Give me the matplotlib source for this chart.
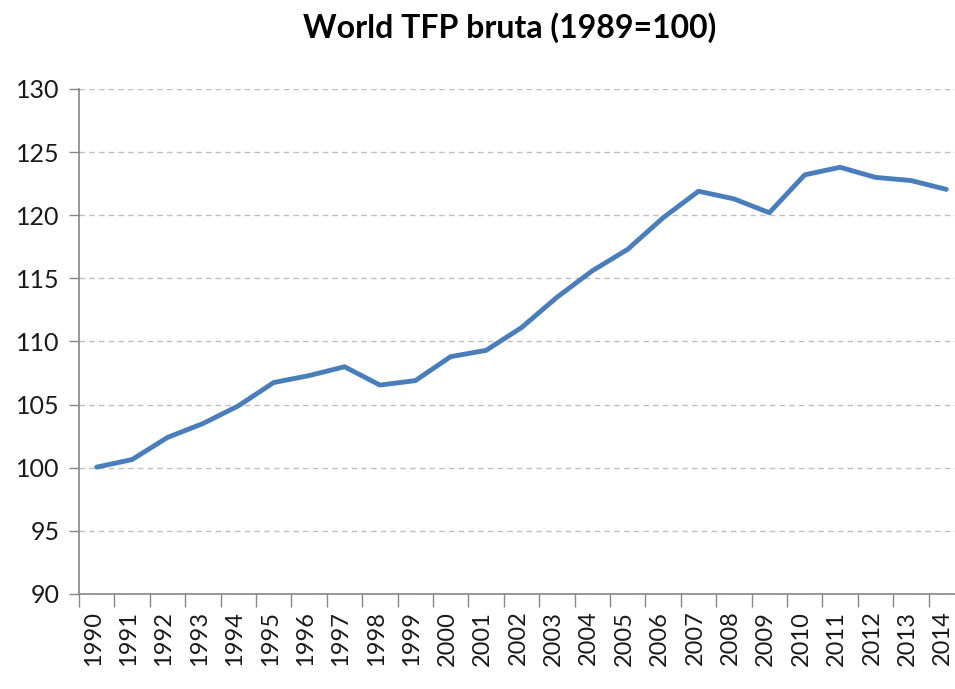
import matplotlib
matplotlib.use("Agg")
import matplotlib.pyplot as plt
import numpy as np

years = [str(y) for y in range(1990, 2015)]
tfp = [100.05, 100.65, 102.4, 103.5, 104.9, 106.75, 107.3, 108.0, 106.55, 106.9,
       108.8, 109.3, 111.1, 113.5, 115.6, 117.3, 119.8, 121.9, 121.3, 120.2,
       123.2, 123.8, 123.0, 122.75, 122.05]
y_ticks = [90, 95, 100, 105, 110, 115, 120, 125, 130]

plt.rcParams['font.family'] = ['Lato', 'DejaVu Sans']

W, H = 955, 689
fig = plt.figure(figsize=(W / 100, H / 100), dpi=100)
left, right, top, bottom = 79, 964, 89, 594
ax = fig.add_axes([left / W, 1 - bottom / H, (right - left) / W, (bottom - top) / H])

x = np.arange(len(years))
ax.plot(x, tfp, color='#4a7ebb', lw=3.5, solid_joinstyle='round', solid_capstyle='round', clip_on=False)

ax.set_ylim(90, 130)
ax.set_xlim(-0.5, len(years) - 0.5)
ax.set_yticks(y_ticks)
ax.set_yticklabels([str(v) for v in y_ticks])
ax.yaxis.grid(True, color='#bfbfbf', linestyle=(0, (4, 3)), lw=1)
ax.set_axisbelow(True)

ax.set_xticks(np.arange(-0.5, len(years), 1.0))
ax.set_xticklabels([])
ax.set_xticks(x - 0.1, minor=True)
ax.set_xticklabels(years, minor=True, rotation=90)
ax.tick_params(axis='x', which='major', length=9, color='#868686', width=1)
ax.tick_params(axis='x', which='minor', length=0, pad=12, labelsize=17, labelcolor='#1a1a1a')
ax.tick_params(axis='y', length=7, color='#868686', width=1, labelsize=18, labelcolor='#1a1a1a', pad=7)

for s in ['top', 'right']:
    ax.spines[s].set_visible(False)
for s in ['left', 'bottom']:
    ax.spines[s].set_color('#868686')
    ax.spines[s].set_linewidth(1.2)

fig.text(510 / W, 1 - 28 / H, 'World TFP bruta (1989=100)', ha='center', va='center',
         fontsize=23, fontweight='bold', color='black')

fig.savefig('out.png', dpi=100)
